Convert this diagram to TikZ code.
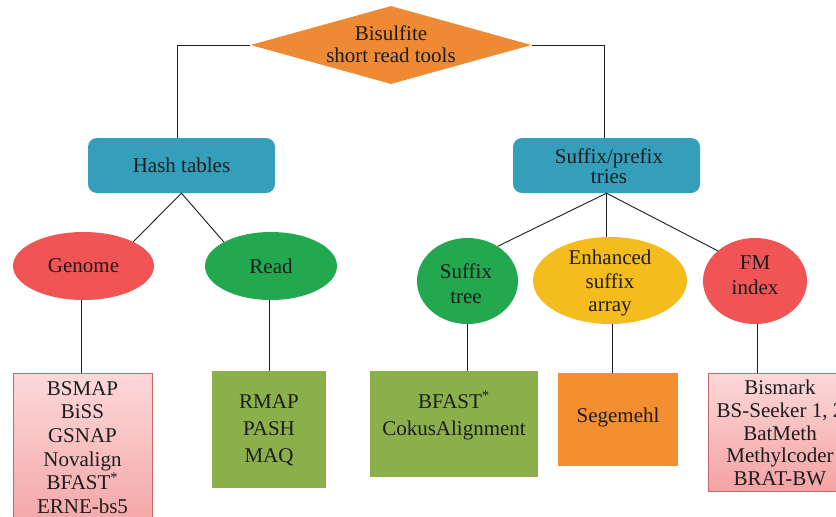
\documentclass[tikz,border=0pt]{standalone}
\usepackage{fontspec}
\setmainfont{Liberation Serif}
\usetikzlibrary{shapes.geometric,calc}
\definecolor{cOrange}{HTML}{EF8A34}
\definecolor{cBlue}{HTML}{359EBA}
\definecolor{cRed}{HTML}{F05455}
\definecolor{cGreen}{HTML}{22A84F}
\definecolor{cYellow}{HTML}{F5BC1E}
\definecolor{cOlive}{HTML}{8BB04B}
\definecolor{cSeg}{HTML}{F38E31}
\definecolor{pinkTop}{HTML}{FCD9DA}
\definecolor{pinkBot}{HTML}{F4A2A3}
\definecolor{pinkLine}{HTML}{C8676A}
\definecolor{ink}{HTML}{1C1C1C}
\begin{document}
\begin{tikzpicture}[x=1pt,y=-1pt,
  txt/.style={text=ink, font=\fontsize{21}{23.5}\selectfont, align=center, inner sep=0pt},
  wide/.style={font=\fontsize{21}{27}\selectfont},
  conn/.style={draw=ink, line width=0.9pt},
  catbox/.style={fill=cBlue, rounded corners=9pt, inner sep=0pt, rectangle},
  oval/.style={ellipse, inner sep=0pt},
  toolbox/.style={inner sep=0pt, rectangle},
  pinkbox/.style={toolbox, top color=pinkTop, bottom color=pinkBot, draw=pinkLine, line width=1pt},
]
\useasboundingbox (0,0) rectangle (836,517);

% root
\node[diamond, fill=cOrange, minimum width=281pt, minimum height=78pt, inner sep=0pt] (root) at (391,45) {};
\node[txt, font=\fontsize{21}{22}\selectfont] (roott) at (391,44) {Bisulfite\\short read tools};

% categories
\node[catbox, minimum width=187pt, minimum height=55pt] (hash) at (181.5,165.5) {};
\node[txt] (hasht) at (181.5,165) {Hash tables};
\node[catbox, minimum width=187pt, minimum height=55pt] (suf) at (606.5,165.5) {};
\node[txt, font=\fontsize{21}{20}\selectfont] (suft) at (609,166) {Suffix/prefix\\tries};

% ellipses
\node[oval, fill=cRed, minimum width=141pt, minimum height=68pt] (genome) at (83.5,266) {};
\node[txt] (genomet) at (83.5,266) {Genome};
\node[oval, fill=cGreen, minimum width=132pt, minimum height=68pt] (read) at (271,266) {};
\node[txt] (readt) at (271,266) {Read};
\node[oval, fill=cGreen, minimum width=101pt, minimum height=86pt] (stree) at (467.5,281) {};
\node[txt, font=\fontsize{21}{25}\selectfont] (street) at (466,284) {Suffix\\tree};
\node[oval, fill=cYellow, minimum width=154pt, minimum height=87pt] (esa) at (610,280.5) {};
\node[txt] (esat) at (610,283) {Enhanced\\suffix\\array};
\node[oval, fill=cRed, minimum width=104pt, minimum height=86pt] (fm) at (755,281) {};
\node[txt, font=\fontsize{21}{25}\selectfont] (fmt) at (755,275.5) {FM\\index};

% tool boxes
\node[pinkbox, minimum width=139pt, minimum height=162pt] (bsmap) at (82.5,454) {};
\node[txt, font=\fontsize{21}{23.7}\selectfont] (bsmapt) at (82.5,447.5) {BSMAP\\BiSS\\GSNAP\\Novalign\\BFAST\textsuperscript{*}\\ERNE-bs5};
\node[toolbox, fill=cOlive, minimum width=114pt, minimum height=117pt] (rmap) at (269,429.5) {};
\node[txt, wide] (rmapt) at (269,430) {RMAP\\PASH\\MAQ};
\node[toolbox, fill=cOlive, minimum width=168pt, minimum height=106pt] (bfast) at (454,424) {};
\node[txt, wide] (bfastt) at (454,415.5) {BFAST\textsuperscript{*}\\CokusAlignment};
\node[toolbox, fill=cSeg, minimum width=120pt, minimum height=93pt] (seg) at (618,419.5) {};
\node[txt] (segt) at (618,417) {Segemehl};
\node[pinkbox, minimum width=144pt, minimum height=118pt] (bism) at (780,432) {};
\node[txt, font=\fontsize{21}{22.6}\selectfont] (bismt) at (780,433) {Bismark\\BS-Seeker 1, 2\\BatMeth\\Methylcoder\\BRAT-BW};

% connectors
\draw[conn] (root.west) -| ([xshift=-4.5pt]hash.north);
\draw[conn] (root.east) -| ([xshift=-2.5pt]suf.north);
\draw[conn] (genome.26) -- (hash.south) -- (read.153);
\draw[conn] (stree.49) -- (suf.south) -- (fm.141);
\draw[conn] (suf.south) -- (suf.south |- esa.north);
\draw[conn] ([xshift=-2pt]genome.south) -- ([xshift=-2pt]genome.south |- bsmap.north);
\draw[conn] (rmap.north |- read.south) -- (rmap.north);
\draw[conn] (stree.south) -- (stree.south |- bfast.north);
\draw[conn] ([xshift=2pt]esa.south) -- ([xshift=2pt]esa.south |- seg.north);
\draw[conn] ([xshift=2pt]fm.south) -- ([xshift=2pt]fm.south |- bism.north);
\end{tikzpicture}
\end{document}
